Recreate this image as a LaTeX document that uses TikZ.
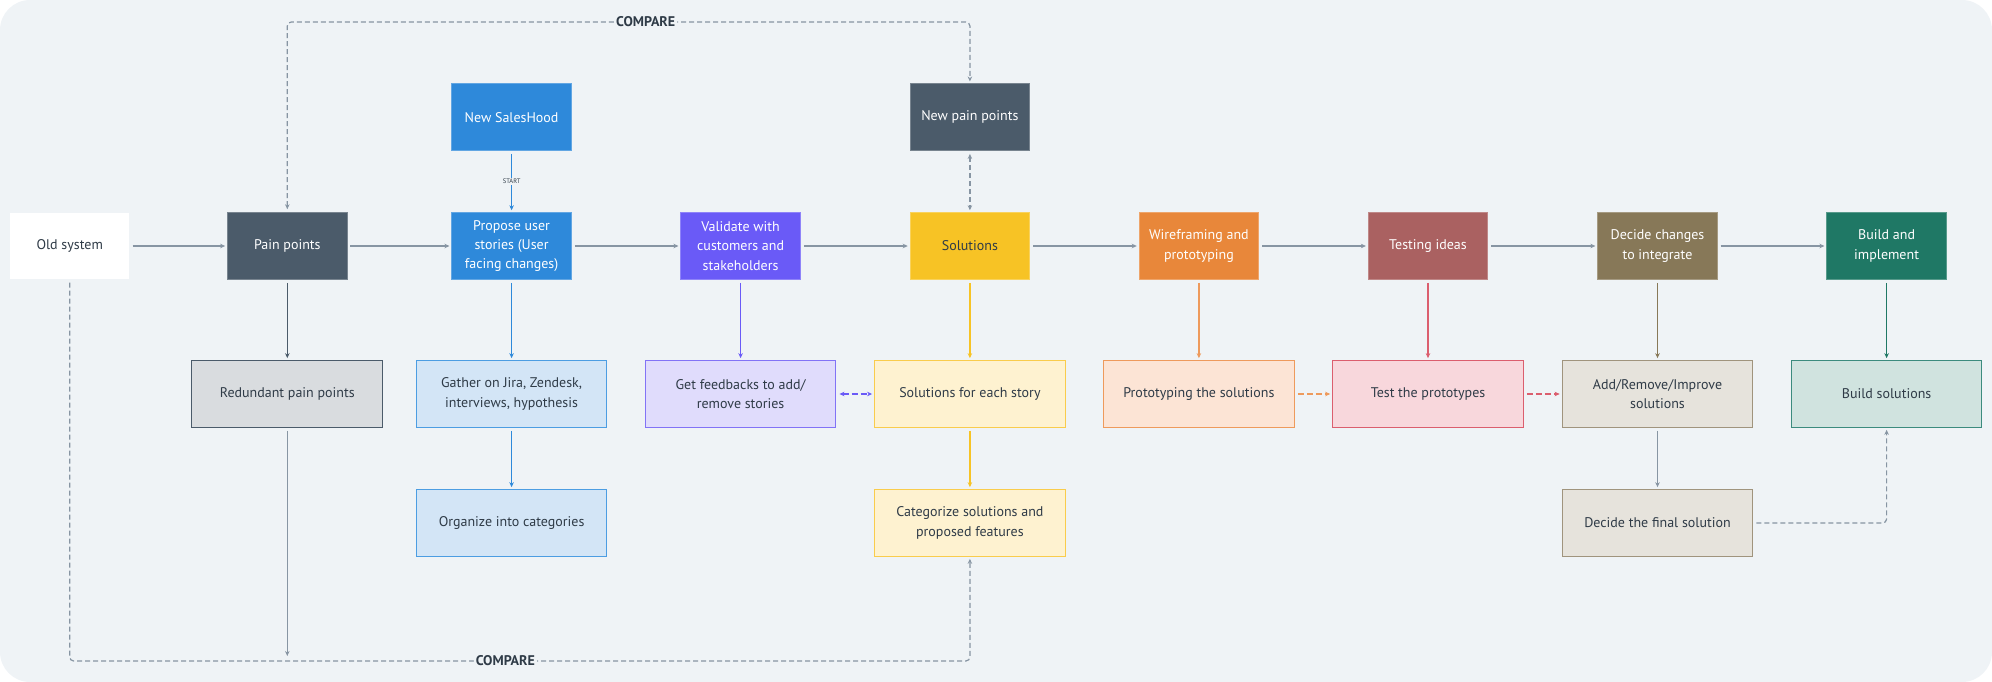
\documentclass[tikz,border=0pt]{standalone}
\usepackage{fontspec}
\setmainfont{PT Sans}
\usepackage{tikz}
\usetikzlibrary{arrows.meta}

\definecolor{bg}{HTML}{EFF3F6}
\definecolor{ink}{HTML}{2F3B47}
\definecolor{linegray}{HTML}{8795A3}
\definecolor{slate}{HTML}{4B5B6A}
\definecolor{cblue}{HTML}{2E89DA}
\definecolor{cpurple}{HTML}{6A5AF7}
\definecolor{cyellow}{HTML}{F7C325}
\definecolor{corange}{HTML}{E8873A}
\definecolor{crose}{HTML}{AA6161}
\definecolor{cred}{HTML}{DB5E6E}
\definecolor{cbrown}{HTML}{877858}
\definecolor{cgreen}{HTML}{1F7865}
\definecolor{lslate}{HTML}{D9DCDF}
\definecolor{lblue}{HTML}{D3E5F6}
\definecolor{lpurple}{HTML}{E0DCFC}
\definecolor{lyellow}{HTML}{FEF2D0}
\definecolor{lorange}{HTML}{FCE4D5}
\definecolor{lrose}{HTML}{F8D7DC}
\definecolor{lbrown}{HTML}{E6E3DC}
\definecolor{lgreen}{HTML}{D0E3DF}
\definecolor{bblue}{HTML}{4C9DE2}
\definecolor{bpurple}{HTML}{8273F6}
\definecolor{byellow}{HTML}{F9CC4C}
\definecolor{borange}{HTML}{EE9A5C}
\definecolor{bbrown}{HTML}{A0947D}
\definecolor{bgreen}{HTML}{3C8B7E}

\newcommand{\flowfont}{\fontsize{14}{19.3}\selectfont}

\tikzset{
    flowbox/.style={rectangle, minimum width=119.5pt, minimum height=66.7pt, inner sep=2pt, align=center, font=\flowfont},
    topbox/.style={flowbox, fill=#1, draw=#1!75!white, line width=0.8pt, text=white},
    subbox/.style 2 args={flowbox, minimum width=190.7pt, fill=#1, draw=#2, line width=1pt, text=ink},
}

\begin{document}
\begin{tikzpicture}[x=1pt, y=-1pt,
    >={Stealth[length=5pt, width=4.5pt]},
    flow/.style={draw=linegray, line width=1.4pt, ->, shorten >=2pt, shorten <=3pt},
    drop/.style={draw=#1, line width=1.2pt, ->, shorten >=2pt, shorten <=3pt},
    cmpline/.style={draw=linegray, line width=1.2pt, dash pattern=on 5pt off 3pt, rounded corners=4pt, shorten >=2pt, shorten <=3pt},
    dashlink/.style={draw=#1, line width=1.8pt, dash pattern=on 6pt off 3pt, ->, shorten >=2pt, shorten <=3pt},
    cmplabel/.style={fill=bg, inner sep=2pt, text=ink, font=\bfseries\fontsize{14}{14}\selectfont},
    startlabel/.style={fill=bg, inner sep=1.5pt, text=ink, font=\fontsize{6.5}{7}\selectfont},
]
    \useasboundingbox (0,0) rectangle (1992,682);
    \fill[bg, rounded corners=30pt] (0,0) rectangle (1992,682);

    % Main row
    \node[flowbox, fill=white, text=ink] (old) at (69.7,246) {Old system};
    \node[topbox=slate] (pain) at (287.3,246) {Pain points};
    \node[topbox=cblue] (propose) at (511.6,246) {Propose user\\stories (User\\facing changes)};
    \node[topbox=cpurple] (validate) at (740.6,246) {Validate with\\customers and\\stakeholders};
    \node[topbox=cyellow, text=ink] (sol) at (969.9,246) {Solutions};
    \node[topbox=corange] (wire) at (1198.9,246) {Wireframing and\\prototyping};
    \node[topbox=crose] (testing) at (1428,246) {Testing ideas};
    \node[topbox=cbrown] (decide) at (1657.5,246) {Decide changes\\to integrate};
    \node[topbox=cgreen] (build) at (1886.6,246) {Build and\\implement};

    % Upper row
    \node[topbox=cblue] (sales) at (511.6,117.2) {New SalesHood};
    \node[topbox=slate] (newpain) at (969.9,117.2) {New pain points};

    % Lower rows
    \node[subbox={lslate}{slate}] (redundant) at (287.3,394) {Redundant pain points};
    \node[subbox={lblue}{bblue}] (gather) at (511.6,394) {Gather on Jira, Zendesk,\\interviews, hypothesis};
    \node[subbox={lblue}{bblue}] (organize) at (511.6,523) {Organize into categories};
    \node[subbox={lpurple}{bpurple}] (feedback) at (740.6,394) {Get feedbacks to add/\\remove stories};
    \node[subbox={lyellow}{byellow}] (solstory) at (969.9,394) {Solutions for each story};
    \node[subbox={lyellow}{byellow}] (categorize) at (969.9,523) {Categorize solutions and\\proposed features};
    \node[subbox={lorange}{borange}] (prototyping) at (1198.9,394) {Prototyping the solutions};
    \node[subbox={lrose}{cred}] (testproto) at (1428,394) {Test the prototypes};
    \node[subbox={lbrown}{bbrown}] (improve) at (1657.5,394) {Add/Remove/Improve\\solutions};
    \node[subbox={lbrown}{bbrown}] (final) at (1657.5,523) {Decide the final solution};
    \node[subbox={lgreen}{bgreen}] (buildsol) at (1886.6,394) {Build solutions};

    % Main flow
    \foreach \a/\b in {old/pain, pain/propose, propose/validate, validate/sol, sol/wire, wire/testing, testing/decide, decide/build}
        \draw[flow] (\a) -- (\b);

    % Downward steps
    \draw[drop=cblue] (sales) -- node[startlabel] (start) {START} (propose);
    \draw[drop=slate] (pain) -- (redundant);
    \draw[drop=cblue] (propose) -- (gather);
    \draw[drop=cblue] (gather) -- (organize);
    \draw[drop=cpurple] (validate) -- (feedback);
    \draw[drop=cyellow] (sol) -- (solstory);
    \draw[drop=cyellow] (solstory) -- (categorize);
    \draw[drop=borange] (wire) -- (prototyping);
    \draw[drop=cred] (testing) -- (testproto);
    \draw[drop=cbrown] (decide) -- (improve);
    \draw[drop=linegray] (improve) -- (final);
    \draw[drop=cgreen] (build) -- (buildsol);

    % Dashed links between lower boxes
    \draw[dashlink=cpurple, <->] (feedback) -- (solstory);
    \draw[dashlink=borange] (prototyping) -- (testproto);
    \draw[dashlink=cred] (testproto) -- (improve);

    % Compare loops
    \coordinate (toprail) at (0,22);
    \coordinate (botrail) at (0,661);
    \draw[cmpline, <->] (pain.north) -- (pain.north |- toprail)
        -- node[cmplabel, pos=0.525] (cmptop) {COMPARE} (newpain.north |- toprail) -- (newpain.north);
    \draw[cmpline, ->] (old.south) -- (old.south |- botrail)
        -- node[cmplabel, pos=0.484] (cmpbot) {COMPARE} (categorize.south |- botrail) -- (categorize.south);
    \draw[drop=linegray, shorten >=5pt] (redundant) -- (redundant.south |- botrail);
    \draw[cmpline, <->] (newpain) -- (sol);
    \draw[cmpline, ->] (final.east) -| (buildsol.south);
\end{tikzpicture}
\end{document}
